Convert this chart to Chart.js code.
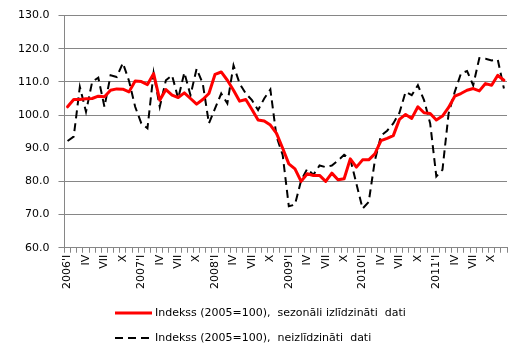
<!DOCTYPE html>
<html>
<head>
<meta charset="utf-8">
<script src="https://cdn.jsdelivr.net/npm/chart.js@4"></script>
<style>
html,body{margin:0;padding:0;background:#fff;}
#wrap{width:524px;height:357px;position:relative;}
</style>
</head>
<body>
<div id="wrap"><canvas id="c" width="524" height="357"></canvas></div>
<script>
const categories = [
 "2006'I","","","IV","","","VII","","","X","","",
 "2007'I","","","IV","","","VII","","","X","","",
 "2008'I","","","IV","","","VII","","","X","","",
 "2009'I","","","IV","","","VII","","","X","","",
 "2010'I","","","IV","","","VII","","","X","","",
 "2011'I","","","IV","","","VII","","","X","",""
];
const seasonallyAdjusted = [
 102.5,104.7,104.7,104.9,105.0,105.7,105.5,107.5,107.9,107.8,107.0,110.3,
 110.1,109.2,112.5,104.5,107.7,106.0,105.3,106.7,105.0,103.3,104.7,106.5,
 112.3,113.0,110.5,107.5,104.2,104.7,101.7,98.5,98.2,97.0,94.5,90.0,
 85.3,83.8,80.0,82.3,81.8,81.8,80.0,82.5,80.5,80.8,86.8,84.3,
 86.5,86.5,88.3,92.3,93.0,93.8,98.7,100.2,99.0,102.5,100.7,100.5,
 98.5,99.7,102.3,105.7,106.5,107.5,108.0,107.3,109.5,109.0,112.0,110.5
];
const unadjusted = [
 92.2,93.5,108.5,101.0,110.0,111.3,102.5,112.0,111.5,115.7,110.3,102.5,
 97.5,96.0,112.7,102.5,110.5,112.0,105.0,112.8,106.0,114.0,109.5,97.5,
 102.0,106.5,103.5,115.0,109.5,106.5,104.5,101.5,105.0,107.7,93.5,88.0,
 72.5,73.0,80.3,83.8,82.0,84.8,84.3,84.8,86.3,88.0,86.8,79.3,
 71.8,73.8,86.3,93.8,95.3,97.5,100.7,107.0,106.0,109.0,104.5,97.5,
 81.5,83.5,100.5,107.0,112.5,113.3,109.0,117.2,117.0,116.5,116.7,108.0
];
const seriesLabels = [
 "Indekss (2005=100),  sezonāli izlīdzināti  dati",
 "Indekss (2005=100),  neizlīdzināti  dati"
];
const yTicks = [60,70,80,90,100,110,120,130];

const FONT = "'DejaVu Sans', Verdana, sans-serif";
const GRID = '#868686';

const legendPlugin = {
  id: 'customLegend',
  afterDraw(chart) {
    const ctx = chart.ctx;
    ctx.save();
    ctx.font = "11px " + FONT;
    ctx.textBaseline = 'middle';
    ctx.fillStyle = '#000';
    chart.data.datasets.forEach((ds, i) => {
      const y = 313 + i * 25;
      ctx.beginPath();
      ctx.strokeStyle = ds.borderColor;
      ctx.lineWidth = ds.borderWidth;
      ctx.setLineDash(ds.borderDash || []);
      ctx.moveTo(115, y);
      ctx.lineTo(152, y);
      ctx.stroke();
      ctx.setLineDash([]);
      ctx.fillText(ds.label, 155, y);
    });
    ctx.restore();
  }
};

new Chart(document.getElementById('c'), {
  type: 'line',
  data: {
    labels: categories,
    datasets: [
      {label: seriesLabels[0], data: seasonallyAdjusted, borderColor: '#ff0000', borderWidth: 3,
       pointRadius: 0, tension: 0, borderJoinStyle: 'round', borderCapStyle: 'round', fill: false},
      {label: seriesLabels[1], data: unadjusted, borderColor: '#000000', borderWidth: 2,
       borderDash: [8,5], pointRadius: 0, tension: 0, fill: false}
    ]
  },
  options: {
    responsive: false,
    animation: false,
    devicePixelRatio: 1,
    layout: {padding: {top: 8, right: 17, left: 9, bottom: 66}},
    plugins: {legend: {display: false}, tooltip: {enabled: false}},
    scales: {
      x: {
        offset: true,
        grid: {offset: true, drawOnChartArea: false, drawTicks: true, tickLength: 5, color: GRID},
        border: {color: GRID},
        ticks: {autoSkip: false, maxRotation: 90, minRotation: 90, padding: 2,
                font: {family: FONT, size: 11}, color: '#000'}
      },
      y: {
        min: 60, max: 130,
        afterBuildTicks(scale) { scale.ticks = yTicks.map(v => ({value: v})); },
        grid: {color: GRID, tickLength: 6},
        border: {color: GRID},
        ticks: {padding: 9, font: {family: FONT, size: 11}, color: '#000',
                callback: v => Number(v).toFixed(1)}
      }
    }
  },
  plugins: [legendPlugin]
});
</script>
</body>
</html>
